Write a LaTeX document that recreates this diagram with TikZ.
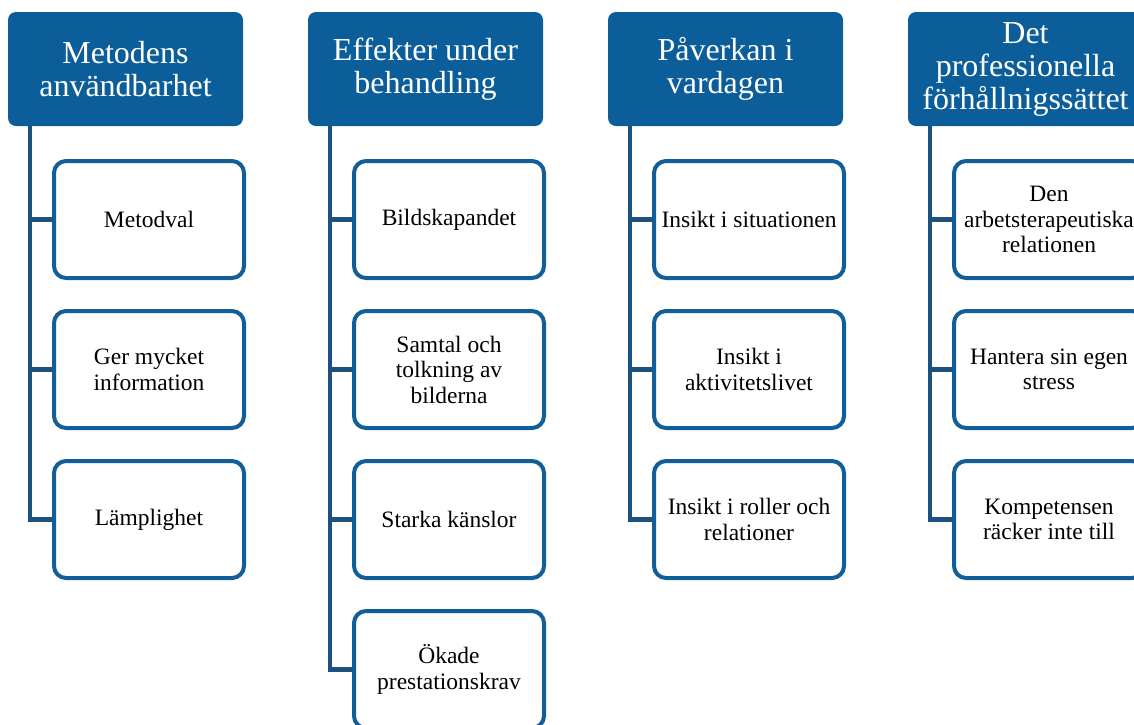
\documentclass[tikz,border=0pt]{standalone}
\usepackage{fontspec}
\setmainfont{Liberation Serif}
\usepackage{tikz}
\usetikzlibrary{positioning,calc}
\definecolor{headblue}{RGB}{12,94,154}
\definecolor{boxblue}{RGB}{18,94,152}
\definecolor{linkblue}{RGB}{28,80,126}
\tikzset{
	head/.style = {rectangle, rounded corners=8pt, fill=headblue, text=white, minimum width=235pt, minimum height=114pt, align=center, inner sep=2pt, font=\fontsize{32}{33}\selectfont},
	item/.style = {rectangle, rounded corners=12pt, draw=boxblue, line width=4pt, fill=white, minimum width=190pt, minimum height=117pt, align=center, inner sep=2pt, font=\fontsize{23.5}{25.5}\selectfont},
	trunk/.style = {draw=linkblue, line width=4.5pt}
}

\begin{document}
\begin{tikzpicture}[x=1pt, y=-1pt, node distance=29pt]
	\useasboundingbox (0,0) rectangle (1134,724);
	\clip (0,0) rectangle (1134,724);

	% rubriker
	\node [head] (metod) at (125.5,69) {Metodens\\användbarhet};
	\node [head] (effekt) at (425.5,69) {Effekter under\\behandling};
	\node [head] (vardag) at (725.5,69) {Påverkan i\\vardagen};
	\node [head] (prof) at (1025.5,69) {Det\\professionella\\förhållnigssättet};

	% stammar
	\coordinate (t1) at ($(metod.south west)+(22,0)$);
	\coordinate (t2) at ($(effekt.south west)+(22,0)$);
	\coordinate (t3) at ($(vardag.south west)+(22,0)$);
	\coordinate (t4) at ($(prof.south west)+(22,0)$);

	% kolumn 1
	\node [item] (m1) at (149,219.5) {Metodval};
	\node [item] [below=of m1] (m2) {Ger mycket\\information};
	\node [item] [below=of m2] (m3) {Lämplighet};
	\draw [trunk] (t1) |- (m3.west);
	\draw [trunk] (t1 |- m1.west) -- (m1.west);
	\draw [trunk] (t1 |- m2.west) -- (m2.west);

	% kolumn 2
	\node [item] (e1) at (449,219.5) {Bildskapandet};
	\node [item] [below=of e1] (e2) {Samtal och\\tolkning av\\bilderna};
	\node [item] [below=of e2] (e3) {Starka känslor};
	\node [item] [below=of e3] (e4) {Ökade\\prestationskrav};
	\draw [trunk] (t2) |- (e4.west);
	\draw [trunk] (t2 |- e1.west) -- (e1.west);
	\draw [trunk] (t2 |- e2.west) -- (e2.west);
	\draw [trunk] (t2 |- e3.west) -- (e3.west);

	% kolumn 3
	\node [item] (v1) at (749,219.5) {Insikt i situationen};
	\node [item] [below=of v1] (v2) {Insikt i\\aktivitetslivet};
	\node [item] [below=of v2] (v3) {Insikt i roller och\\relationer};
	\draw [trunk] (t3) |- (v3.west);
	\draw [trunk] (t3 |- v1.west) -- (v1.west);
	\draw [trunk] (t3 |- v2.west) -- (v2.west);

	% kolumn 4
	\node [item] (p1) at (1049,219.5) {Den\\arbetsterapeutiska\\relationen};
	\node [item] [below=of p1] (p2) {Hantera sin egen\\stress};
	\node [item] [below=of p2] (p3) {Kompetensen\\räcker inte till};
	\draw [trunk] (t4) |- (p3.west);
	\draw [trunk] (t4 |- p1.west) -- (p1.west);
	\draw [trunk] (t4 |- p2.west) -- (p2.west);
\end{tikzpicture}
\end{document}
